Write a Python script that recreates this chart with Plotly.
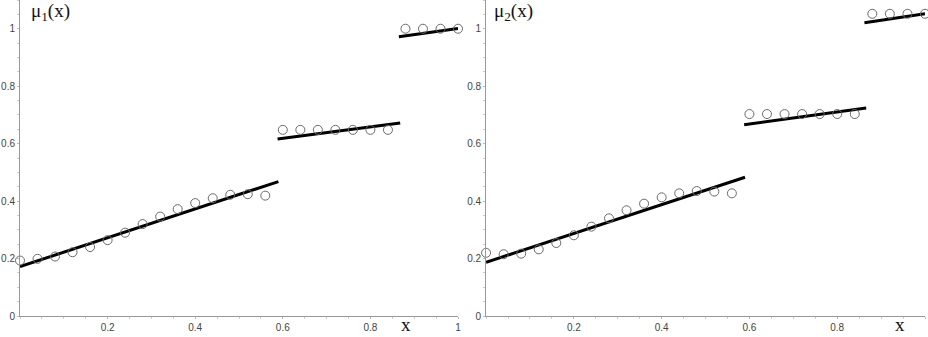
import plotly.graph_objects as go

# sample points
x_pts = [0.00, 0.04, 0.08, 0.12, 0.16, 0.20, 0.24, 0.28, 0.32, 0.36, 0.40, 0.44, 0.48, 0.52, 0.56,
         0.60, 0.64, 0.68, 0.72, 0.76, 0.80, 0.84,
         0.88, 0.92, 0.96, 1.00]
mu1_pts = [0.193, 0.199, 0.207, 0.222, 0.240, 0.264, 0.290, 0.320, 0.346, 0.372, 0.393, 0.410, 0.422, 0.424, 0.419,
           0.648, 0.648, 0.648, 0.648, 0.648, 0.648, 0.648,
           1.0, 1.0, 1.0, 1.0]
mu2_pts = [0.220, 0.215, 0.217, 0.232, 0.254, 0.281, 0.311, 0.340, 0.368, 0.391, 0.413, 0.427, 0.435, 0.433, 0.427,
           0.703, 0.703, 0.703, 0.703, 0.703, 0.703, 0.703,
           1.052, 1.052, 1.052, 1.052]

# fitted piecewise linear segments: (x_start, x_end), (y_start, y_end)
mu1_seg_x = [[0.0, 0.59], [0.588, 0.868], [0.865, 1.0]]
mu1_seg_y = [[0.172, 0.468], [0.616, 0.672], [0.972, 1.001]]
mu2_seg_x = [[0.0, 0.59], [0.588, 0.866], [0.862, 1.0]]
mu2_seg_y = [[0.187, 0.483], [0.666, 0.724], [1.021, 1.052]]

x_ticks = [0.2, 0.4, 0.6, 0.8, 1.0]
x_ticklabels = ["0.2", "0.4", "0.6", "0.8", "1"]
y_ticks = [0, 0.2, 0.4, 0.6, 0.8, 1.0]
y_ticklabels = ["0", "0.2", "0.4", "0.6", "0.8", "1"]

fig = go.Figure()

panels = [("x", "y", mu1_pts, mu1_seg_x, mu1_seg_y),
          ("x2", "y2", mu2_pts, mu2_seg_x, mu2_seg_y)]
for xa, ya, pts, segx, segy in panels:
    for sx, sy in zip(segx, segy):
        fig.add_trace(go.Scatter(x=sx, y=sy, mode="lines", xaxis=xa, yaxis=ya,
                                 line=dict(color="black", width=3), showlegend=False,
                                 hoverinfo="skip"))
    fig.add_trace(go.Scatter(x=x_pts, y=pts, mode="markers", xaxis=xa, yaxis=ya,
                             marker=dict(symbol="circle-open", size=9,
                                         color="#6a6a6a", line=dict(width=1, color="#6a6a6a")),
                             showlegend=False, cliponaxis=False))

tickfont = dict(family="Liberation Sans, Arial, sans-serif", size=10, color="#444")
xaxis_common = dict(range=[0, 1], tickvals=x_ticks, ticktext=x_ticklabels, showgrid=False,
                    zeroline=False, showline=True, linecolor="#999", linewidth=1,
                    ticks="outside", ticklen=2, tickcolor="#bbb", tickfont=tickfont,
                    minor=dict(dtick=0.05, ticks="outside", ticklen=2, tickcolor="#ccc"))
yaxis_common = dict(range=[0, 1.1], tickvals=y_ticks, ticktext=y_ticklabels, showgrid=False,
                    zeroline=False, showline=True, linecolor="#999", linewidth=1,
                    ticks="outside", ticklen=2, tickcolor="#bbb", tickfont=tickfont,
                    minor=dict(dtick=0.05, ticks="outside", ticklen=2, tickcolor="#ccc"))

fig.update_layout(
    width=928, height=337,
    margin=dict(l=20, r=3, t=0, b=21),
    plot_bgcolor="white", paper_bgcolor="white",
    xaxis=dict(domain=[0, 0.484], anchor="y", **xaxis_common),
    yaxis=dict(domain=[0, 1], anchor="x", **yaxis_common),
    xaxis2=dict(domain=[0.515, 1.0], anchor="y2", **xaxis_common),
    yaxis2=dict(domain=[0, 1], anchor="x2", **yaxis_common),
)

serif = dict(family="Liberation Serif, Times New Roman, serif", size=19, color="#111")
fig.add_annotation(text="μ<sub>1</sub>(x)", xref="paper", yref="paper", x=0.010, y=1.005,
                   xanchor="left", yanchor="top", showarrow=False, font=serif)
fig.add_annotation(text="μ<sub>2</sub>(x)", xref="paper", yref="paper", x=0.522, y=1.005,
                   xanchor="left", yanchor="top", showarrow=False, font=serif)
fig.add_annotation(text="x", xref="paper", yref="paper", x=(406 - 20) / 905, y=-0.066,
                   xanchor="center", yanchor="bottom", showarrow=False, font=serif)
fig.add_annotation(text="x", xref="paper", yref="paper", x=(900 - 20) / 905, y=-0.066,
                   xanchor="center", yanchor="bottom", showarrow=False, font=serif)

fig.write_html("out.html", config={"displayModeBar": False},
               post_script="document.body.style.margin='0';")
